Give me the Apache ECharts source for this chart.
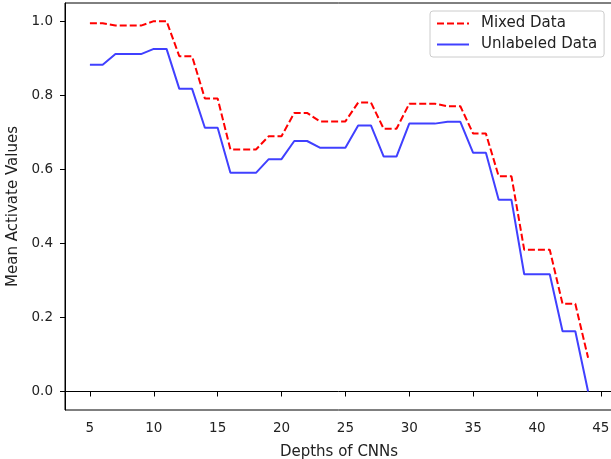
<!DOCTYPE html>
<html>
<head>
<meta charset="utf-8">
<script src="https://cdn.jsdelivr.net/npm/echarts@6/dist/echarts.min.js"></script>
<style>html,body{margin:0;padding:0;background:#fff}#c{width:611px;height:459px}</style>
</head>
<body>
<div id="c"></div>
<script>
const depths = [5,6,7,8,9,10,11,12,13,14,15,16,17,18,19,20,21,22,23,24,25,26,27,28,29,30,31,32,33,34,35,36,37,38,39,40,41,42,43,44];
const mixedData = [0.995,0.995,0.989,0.989,0.989,1.001,1.001,0.906,0.906,0.792,0.792,0.654,0.654,0.654,0.690,0.690,0.753,0.753,0.730,0.730,0.730,0.781,0.781,0.710,0.710,0.778,0.778,0.778,0.771,0.771,0.697,0.697,0.582,0.582,0.383,0.383,0.383,0.237,0.237,0.091];
const unlabeledData = [0.883,0.883,0.912,0.912,0.912,0.926,0.926,0.818,0.818,0.713,0.713,0.591,0.591,0.591,0.628,0.628,0.677,0.677,0.659,0.659,0.659,0.719,0.719,0.635,0.635,0.724,0.724,0.724,0.729,0.729,0.645,0.645,0.518,0.518,0.317,0.317,0.317,0.163,0.163,0.0];
const xTicks = [5,10,15,20,25,30,35,40,45];
const yTicks = [0,0.2,0.4,0.6,0.8,1.0];

const chart = echarts.init(document.getElementById('c'));
const font = 'DejaVu Sans';
const txt = '#222';
chart.setOption({
  animation: false,
  grid: {left: 65, top: 3, width: 548, height: 407, show: true, borderColor: '#000', borderWidth: 1, backgroundColor: 'transparent', containLabel: false, outerBoundsMode: 'none'},
  legend: {
    left: 430, top: 11, orient: 'vertical',
    itemWidth: 32, itemHeight: 14, itemGap: 6,
    padding: [5, 7, 5, 6],
    backgroundColor: '#fff', borderColor: '#ccc', borderWidth: 1, borderRadius: 3,
    itemStyle: {opacity: 0},
    textStyle: {fontFamily: font, fontSize: 15, color: txt, padding: [0, 0, 0, 7]},
    data: ['Mixed Data', 'Unlabeled Data']
  },
  xAxis: {
    type: 'value', min: 3.05, max: 45.95,
    name: 'Depths of CNNs', nameLocation: 'middle', nameGap: 35,
    nameTextStyle: {fontFamily: font, fontSize: 15, color: txt},
    axisLine: {show: true, lineStyle: {color: '#000', width: 1}},
    axisTick: {show: true, inside: false, length: 5, customValues: xTicks, lineStyle: {color: '#000'}},
    axisLabel: {customValues: xTicks, fontFamily: font, fontSize: 13.5, color: txt, margin: 11},
    splitLine: {show: false}
  },
  yAxis: {
    type: 'value', min: -0.05, max: 1.05,
    name: 'Mean Activate Values', nameLocation: 'middle', nameGap: 43,
    nameTextStyle: {fontFamily: font, fontSize: 15, color: txt},
    axisLine: {show: true, lineStyle: {color: '#000', width: 1}},
    axisTick: {show: true, inside: false, length: 5, customValues: yTicks, lineStyle: {color: '#000'}},
    axisLabel: {customValues: yTicks, fontFamily: font, fontSize: 13.5, color: txt, margin: 12, formatter: v => v.toFixed(1)},
    splitLine: {show: false}
  },
  series: [
    {
      name: 'Mixed Data', type: 'line', symbol: 'none', showSymbol: false,
      data: depths.map((d, i) => [d, mixedData[i]]),
      itemStyle: {color: '#ff0000'},
      lineStyle: {color: '#ff0000', width: 2, type: [7, 3]}
    },
    {
      name: 'Unlabeled Data', type: 'line', symbol: 'none', showSymbol: false,
      data: depths.map((d, i) => [d, unlabeledData[i]]),
      itemStyle: {color: '#4040ff'},
      lineStyle: {color: '#4040ff', width: 2}
    }
  ]
});
</script>
</body>
</html>
